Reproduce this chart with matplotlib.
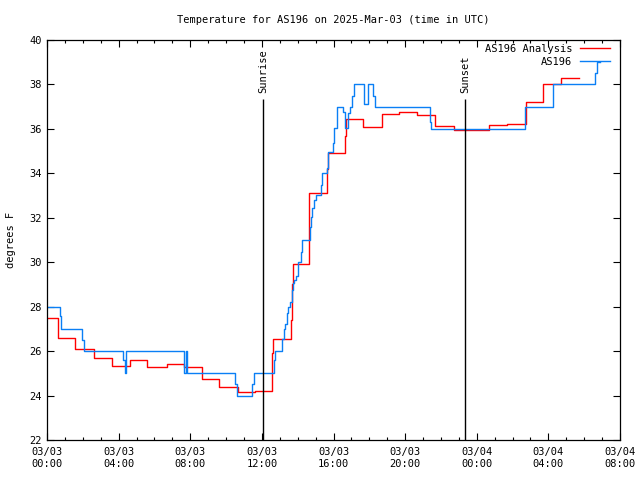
import numpy as np
import matplotlib
matplotlib.use("Agg")
import matplotlib.pyplot as plt
import matplotlib.dates as mdates

plt.rcParams['font.family'] = ['DejaVu Sans Mono']

# hours after 2025-03-03 00:00 UTC, value holds until the next time (steps)
anl_hours = [0.0, 0.62, 1.58, 2.65, 3.63, 4.65, 5.60, 6.68, 7.65, 8.68, 9.62,
             10.66, 11.63, 12.58, 12.64, 13.63, 13.68, 13.74, 14.65, 15.62,
             15.67, 16.66, 16.72, 17.63, 18.70, 19.64, 20.68, 21.65, 22.71,
             24.70, 25.69, 26.75, 27.69, 28.70, 29.70]
anl_temp = [27.5, 26.6, 26.1, 25.7, 25.35, 25.6, 25.3, 25.4, 25.3, 24.75, 24.4,
            24.18, 24.22, 25.9, 26.55, 27.4, 29.0, 29.9, 33.1, 34.2,
            34.9, 35.7, 36.45, 36.07, 36.69, 36.75, 36.63, 36.13, 35.95,
            36.16, 36.22, 37.2, 38.02, 38.27, 38.27]

obs_hours = [0.0, 0.70, 0.76, 1.97, 2.04, 4.26, 4.33, 4.43, 7.67, 7.76, 7.82,
             10.50, 10.60, 11.47, 11.55, 12.66, 12.72, 13.14, 13.22, 13.29,
             13.38, 13.44, 13.59, 13.66, 13.72, 13.81, 13.89, 14.00, 14.04,
             14.19, 14.26, 14.69, 14.74, 14.82, 14.91, 15.00, 15.30, 15.34,
             15.65, 15.71, 15.95, 16.03, 16.18, 16.55, 16.64, 16.83, 16.92,
             17.01, 17.15, 17.70, 17.95, 18.22, 18.32, 21.38, 21.45, 26.71,
             28.28, 30.58, 30.72, 30.90]
obs_temp = [28.0, 27.6, 27.0, 26.5, 26.0, 25.6, 25.0, 26.0, 25.0, 26.0, 25.0,
            24.5, 24.0, 24.5, 25.0, 25.6, 26.0, 26.55, 27.0, 27.2,
            27.7, 28.0, 28.2, 28.75, 29.05, 29.2, 29.4, 29.7, 30.0,
            30.47, 31.0, 31.6, 32.05, 32.43, 32.8, 33.03, 33.48, 34.0,
            34.23, 34.97, 35.35, 36.03, 37.0, 36.78, 36.03, 36.7, 37.0,
            37.5, 38.0, 37.1, 38.0, 37.5, 37.0, 36.3, 36.0, 37.0,
            38.0, 38.5, 39.0, 39.0]

sunrise_hour = 12.08
sunset_hour = 23.36
x_range_hours = 32
y_ticks = list(range(22, 41, 2))

t0 = np.datetime64('2025-03-03T00:00')


def to_time(hours):
    return t0 + (np.asarray(hours) * 3600).astype('timedelta64[s]')


fig = plt.figure(figsize=(6.4, 4.8), dpi=100)
ax = fig.add_axes([47 / 640, 40 / 480, 573 / 640, 400 / 480])

ax.plot(to_time(anl_hours), anl_temp, drawstyle='steps-post', color='#ff0000',
        lw=1.0, label='AS196 Analysis')
ax.plot(to_time(obs_hours), obs_temp, drawstyle='steps-post', color='#0a7ff5',
        lw=1.0, label='AS196')

# sunrise / sunset markers
for h, name in [(sunrise_hour, 'Sunrise'), (sunset_hour, 'Sunset')]:
    ax.vlines(to_time([h])[0], 22, 37.35, color='black', lw=1.0)
    ax.text(to_time([h])[0], 37.62, name, rotation=90, ha='center', va='bottom',
            fontsize=7.5)

ax.set_xlim(t0, to_time([x_range_hours])[0])
ax.set_ylim(22, 40)
ax.set_yticks(y_ticks)
ax.xaxis.set_major_locator(mdates.HourLocator(byhour=[0, 4, 8, 12, 16, 20]))
ax.xaxis.set_minor_locator(mdates.HourLocator(interval=1))
ax.xaxis.set_major_formatter(mdates.DateFormatter('%m/%d\n%H:%M'))
ax.tick_params(which='both', direction='in', top=True, right=True, labelsize=7.5)
ax.tick_params(which='major', length=5, width=0.8)
ax.tick_params(which='minor', length=2.5, width=0.8)
ax.tick_params(axis='x', pad=5)
for s in ax.spines.values():
    s.set_linewidth(0.9)

ax.set_ylabel('degrees F', fontsize=7.5, labelpad=10)
ax.set_title('Temperature for AS196 on 2025-Mar-03 (time in UTC)', fontsize=7.5, pad=12)

ax.legend(loc='upper right', bbox_to_anchor=(610 / 640, 1 - 44 / 480),
          bbox_transform=fig.transFigure, frameon=False, markerfirst=False,
          fontsize=7.5, handlelength=2.9, handletextpad=0.7, labelspacing=0.3,
          borderpad=0, borderaxespad=0)

fig.savefig('out.png', dpi=100)
